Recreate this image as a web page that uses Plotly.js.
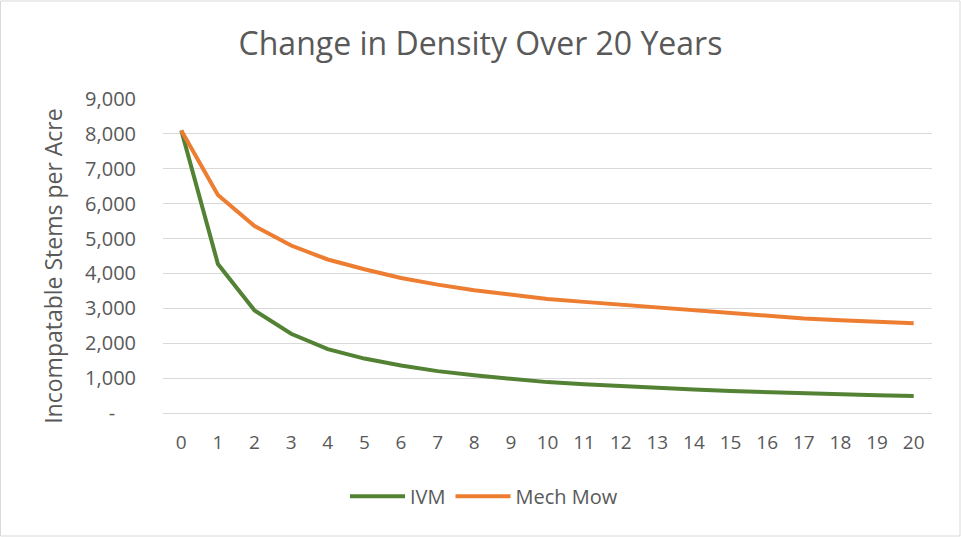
<!DOCTYPE html>
<html><head><meta charset="utf-8">
<script src="https://cdn.plot.ly/plotly-3.0.1.min.js"></script>
<style>html,body{margin:0;padding:0;background:#fff;}#chart{width:961px;height:537px;}</style>
</head><body><div id="chart"></div>
<script>
const years = [0,1,2,3,4,5,6,7,8,9,10,11,12,13,14,15,16,17,18,19,20];
const ivm = [8100,4270,2940,2270,1830,1560,1360,1200,1080,975,885,822,765,716,670,630,593,564,536,507,487];
const mechMow = [8100,6250,5360,4800,4400,4120,3870,3680,3520,3390,3270,3185,3105,3015,2930,2850,2775,2708,2656,2607,2570];
const yTickVals = [0,1000,2000,3000,4000,5000,6000,7000,8000,9000];
const yTickText = ['-\u00a0\u00a0\u00a0\u00a0','1,000','2,000','3,000','4,000','5,000','6,000','7,000','8,000','9,000'];
const yTitle = 'Incompatable Stems per Acre';

const font = "'Open Sans', 'Liberation Sans', sans-serif";
const traces = [
  {x: years, y: ivm, name: 'IVM', type: 'scatter', mode: 'lines',
   line: {color: '#548235', width: 4}},
  {x: years, y: mechMow, name: 'Mech Mow', type: 'scatter', mode: 'lines',
   line: {color: '#ED7D31', width: 4}}
];
const layout = {
  width: 961, height: 537,
  margin: {l: 163, r: 29, t: 99, b: 124},
  paper_bgcolor: '#fff', plot_bgcolor: '#fff',
  font: {family: font, color: '#595959', size: 20},
  title: {text: 'Change in Density Over 20 Years', font: {size: 32, color: '#595959', family: font},
          x: 0.5, xanchor: 'center', y: 0.918, yanchor: 'middle'},
  xaxis: {type: 'linear', range: [-0.5, 20.5], tickvals: years, ticktext: years.map(String),
          showgrid: false, zeroline: false, showline: true, linecolor: '#d9d9d9', linewidth: 1,
          ticks: '', ticklen: 0, ticklabelstandoff: 12, tickfont: {size: 19, color: '#595959'}, fixedrange: true},
  yaxis: {range: [0, 9000], tickvals: yTickVals, ticktext: yTickText,
          showgrid: true, gridcolor: '#d9d9d9', gridwidth: 1, zeroline: false, showline: false,
          ticks: '', ticklabelstandoff: 26, tickfont: {size: 20, color: '#595959'},
          fixedrange: true},
  annotations: [{text: yTitle, xref: 'paper', yref: 'paper', x: (53 - 163) / 769, y: (412.7 - 265.5) / 314,
                 xanchor: 'center', yanchor: 'middle', textangle: -90, showarrow: false,
                 font: {size: 23, color: '#595959', family: font}}],
  showlegend: true,
  legend: {orientation: 'h', x: (484 - 163) / 769, xanchor: 'center', y: -0.265, yanchor: 'middle',
           font: {size: 20, color: '#595959'}, itemwidth: 55},
  shapes: [{type: 'rect', xref: 'paper', yref: 'paper', x0: -162.5/769, x1: 1 + 28/769, y0: -123/314, y1: 1 + 98/314,
            line: {color: '#d9d9d9', width: 1}, layer: 'below'}]
};
Plotly.newPlot('chart', traces, layout, {displayModeBar: false, staticPlot: true});
</script></body></html>
